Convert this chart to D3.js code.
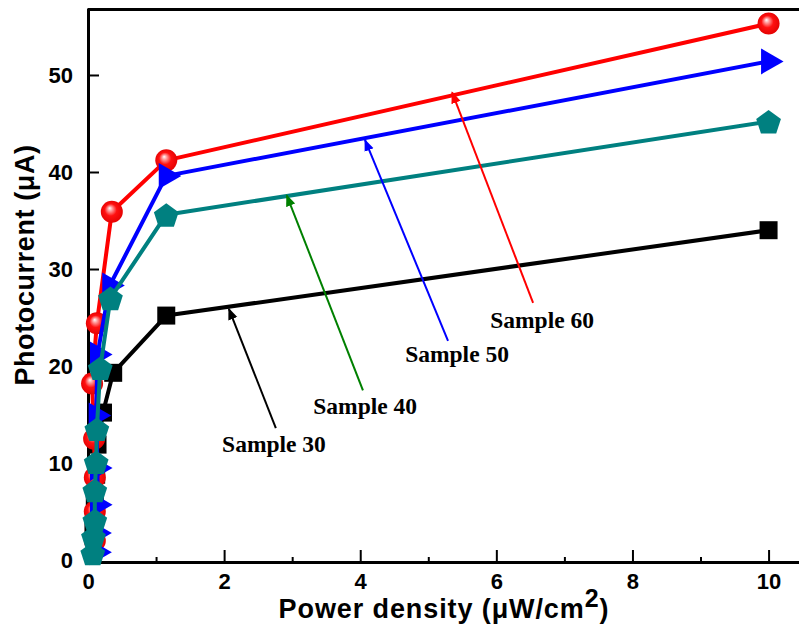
<!DOCTYPE html>
<html lang="en">
<head>
<meta charset="utf-8">
<script src="https://d3js.org/d3.v7.min.js"></script>
<style>
  body { margin: 0; background: #fff; }
  svg { display: block; }
</style>
</head>
<body>
<script>
// power density (uW/cm2) and photocurrent (uA)
const x30 = [0.08, 0.1, 0.12, 0.14, 0.22, 0.37, 1.15, 10];
const y30 = [3.0, 5.7, 8.8, 11.9, 15.2, 19.3, 25.2, 34.0];

const x40 = [0.07, 0.08, 0.1, 0.1, 0.12, 0.13, 0.18, 0.33, 1.15, 10];
const y40 = [0.7, 2.4, 4.1, 7.2, 10.1, 13.5, 19.8, 27.0, 35.6, 45.2];

const x50 = [0.13, 0.13, 0.14, 0.14, 0.12, 0.14, 0.32, 1.15, 10];
const y50 = [0.8, 2.8, 5.7, 9.5, 14.9, 21.2, 28.3, 39.6, 51.4];

const x60 = [0.1, 0.1, 0.1, 0.09, 0.06, 0.13, 0.35, 1.15, 10];
const y60 = [2.0, 5.0, 8.5, 12.5, 18.2, 24.4, 35.9, 41.2, 55.3];

const xTicks = [0, 2, 4, 6, 8, 10];
const xMinor = [1, 3, 5, 7, 9];
const yTicks = [0, 10, 20, 30, 40, 50];

const W = 799, H = 632;
const mLeft = 88, mRight = 802.6, mTop = 9.5, mBottom = 562;

const x = d3.scaleLinear().domain([0, 10.5]).range([mLeft, mRight]);
const y = d3.scaleLinear().domain([-0.2, 56.75]).range([mBottom, mTop]);

const svg = d3.select("body").append("svg")
  .attr("width", W).attr("height", H);

const defs = svg.append("defs");
const grad = defs.append("radialGradient").attr("id", "ball")
  .attr("cx", "50%").attr("cy", "50%").attr("r", "55%")
  .attr("fx", "40%").attr("fy", "33%");
grad.append("stop").attr("offset", "0%").attr("stop-color", "#ffffff");
grad.append("stop").attr("offset", "20%").attr("stop-color", "#ff9a9a");
grad.append("stop").attr("offset", "50%").attr("stop-color", "#ff1010");
grad.append("stop").attr("offset", "100%").attr("stop-color", "#e00000");

defs.selectAll("marker").data(["black", "green", "blue", "red"]).join("marker")
  .attr("id", d => "arr-" + d)
  .attr("viewBox", "0 -5 10 10")
  .attr("refX", 9).attr("refY", 0)
  .attr("markerWidth", 6).attr("markerHeight", 6)
  .attr("markerUnits", "strokeWidth")
  .attr("orient", "auto")
  .append("path").attr("d", "M0,-4L10,0L0,4Z").attr("fill", d => d);

// axes
svg.append("g")
  .attr("transform", `translate(0,${mBottom})`)
  .call(d3.axisBottom(x).tickValues(xTicks).tickSizeInner(-12).tickSizeOuter(0).tickPadding(11));
svg.append("g")
  .attr("transform", `translate(0,${mBottom})`)
  .call(d3.axisBottom(x).tickValues(xMinor).tickSizeInner(-5).tickSizeOuter(0).tickFormat(""))
  .select(".domain").remove();
svg.append("g")
  .attr("transform", `translate(${mLeft},0)`)
  .call(d3.axisLeft(y).tickValues(yTicks).tickSizeInner(-11).tickSizeOuter(0).tickPadding(15));

svg.selectAll(".domain").attr("stroke", "#000").attr("stroke-width", 3).attr("stroke-linecap", "square");
svg.selectAll(".tick line").attr("stroke", "#000").attr("stroke-width", 2);
svg.selectAll(".tick text")
  .attr("font-family", "'Liberation Sans', Arial, sans-serif")
  .attr("font-weight", "bold").attr("font-size", 22).attr("fill", "#000");

// top frame line
svg.append("line")
  .attr("x1", x(0)).attr("x2", W)
  .attr("y1", y(56.75)).attr("y2", y(56.75))
  .attr("stroke", "#000").attr("stroke-width", 3);

// axis titles
svg.append("text")
  .attr("transform", "translate(34,265) rotate(-90)")
  .attr("text-anchor", "middle")
  .attr("font-family", "'Liberation Sans', Arial, sans-serif")
  .attr("font-weight", "bold").attr("font-size", 27)
  .attr("letter-spacing", 0.6)
  .text("Photocurrent (μA)");

const xt = svg.append("text")
  .attr("x", 444).attr("y", 618)
  .attr("text-anchor", "middle")
  .attr("font-family", "'Liberation Sans', Arial, sans-serif")
  .attr("font-weight", "bold").attr("font-size", 27)
  .attr("letter-spacing", 0.9);
xt.append("tspan").text("Power density (μW/cm");
xt.append("tspan").attr("dy", -11).attr("font-size", 25).text("2");
xt.append("tspan").attr("dy", 11).text(")");

// series
const line = d3.line().x(d => x(d[0])).y(d => y(d[1]));
const zip = (xs, ys) => xs.map((v, i) => [v, ys[i]]);

function pentagon(r) {
  const pts = d3.range(5).map(i => {
    const a = -Math.PI / 2 + i * 2 * Math.PI / 5;
    return [r * Math.cos(a), r * Math.sin(a) + 1.5];
  });
  return "M" + pts.join("L") + "Z";
}
function triRight(s) {
  const h = s * Math.sqrt(3) / 2;
  return `M${2 * h / 3},0L${-h / 3},${-s / 2}L${-h / 3},${s / 2}Z`;
}

const series = [
  {data: zip(x30, y30), color: "#000000", shape: "square"},
  {data: zip(x60, y60), color: "#ff0000", shape: "ball"},
  {data: zip(x50, y50), color: "#0000ff", shape: "tri"},
  {data: zip(x40, y40), color: "#008080", shape: "pent"}
];

series.forEach(s => {
  svg.append("path").datum(s.data)
    .attr("fill", "none").attr("stroke", s.color)
    .attr("stroke-width", 4).attr("stroke-linejoin", "round")
    .attr("d", line);
  const g = svg.append("g");
  const pts = g.selectAll("g").data(s.data).join("g")
    .attr("transform", d => `translate(${x(d[0])},${y(d[1])})`);
  if (s.shape === "ball") {
    pts.append("circle").attr("r", 11).attr("fill", "url(#ball)");
  } else if (s.shape === "square") {
    pts.append("path").attr("d", d3.symbol(d3.symbolSquare, 324)()).attr("fill", s.color);
  } else if (s.shape === "tri") {
    pts.append("path").attr("d", triRight(26)).attr("fill", s.color);
  } else {
    pts.append("path").attr("d", pentagon(13)).attr("fill", s.color);
  }
});

// annotations (data coordinates)
const notes = [
  {label: "Sample 30", color: "black", head: [2.07, 25.9], tail: [2.76, 13.6], text: [1.97, 11.1]},
  {label: "Sample 40", color: "green", head: [2.92, 37.6], tail: [4.04, 17.5], text: [3.31, 15.1]},
  {label: "Sample 50", color: "blue", head: [4.07, 43.3], tail: [5.29, 22.6], text: [4.66, 20.4]},
  {label: "Sample 60", color: "red", head: [5.35, 48.2], tail: [6.54, 26.5], text: [5.91, 23.9]}
];
const colorOf = {black: "#000000", green: "#008000", blue: "#0000ff", red: "#ff0000"};

notes.forEach(n => {
  svg.append("line")
    .attr("x1", x(n.tail[0])).attr("y1", y(n.tail[1]))
    .attr("x2", x(n.head[0])).attr("y2", y(n.head[1]))
    .attr("stroke", colorOf[n.color]).attr("stroke-width", 2)
    .attr("marker-end", `url(#arr-${n.color})`);
  svg.append("text")
    .attr("x", x(n.text[0])).attr("y", y(n.text[1]))
    .attr("font-family", "'Liberation Serif', 'Times New Roman', serif")
    .attr("font-weight", "bold").attr("font-size", 23.5)
    .text(n.label);
});
</script>
</body>
</html>
